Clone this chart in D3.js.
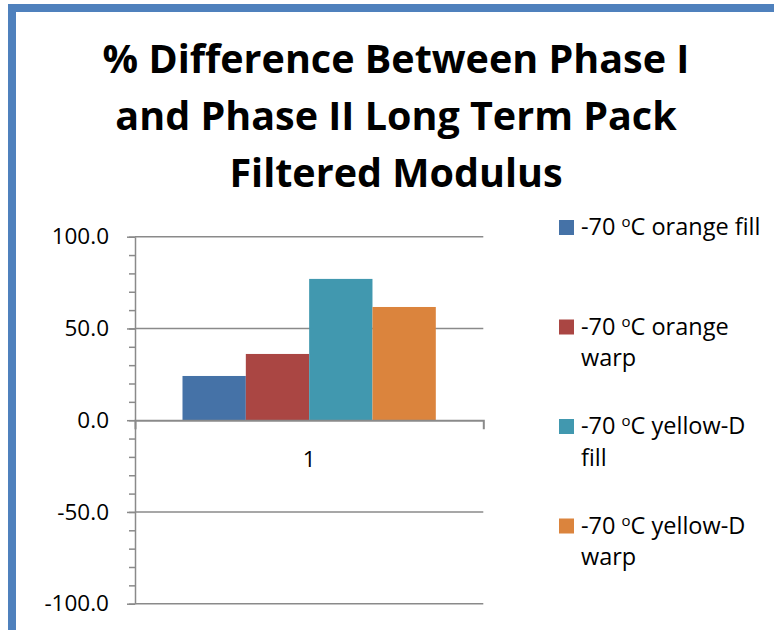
<!DOCTYPE html>
<html>
<head>
<meta charset="utf-8">
<script src="https://cdn.jsdelivr.net/npm/d3@7"></script>
<style>
  html, body { margin: 0; padding: 0; background: #fff; }
  svg { display: block; }
  text { font-family: "Open Sans", "DejaVu Sans", sans-serif; fill: #000; }
</style>
</head>
<body>
<svg id="chart" width="774" height="630"></svg>
<script>
// Chart data
const titleLines = ["% Difference Between Phase I", "and Phase II Long Term Pack", "Filtered Modulus"];
const categories = ["1"];
const seriesNames = [
  ["-70 ", "o", "C orange fill"],
  ["-70 ", "o", "C orange", "warp"],
  ["-70 ", "o", "C yellow-D", "fill"],
  ["-70 ", "o", "C yellow-D", "warp"]
];
const seriesValues = [24.1, 36.1, 77.0, 61.7];
const seriesColors = ["#4572A7", "#AA4643", "#4198AF", "#DB843D"];
const majorTicks = [-100, -50, 0, 50, 100];
const minorTicks = d3.range(-100, 101, 10);

const svg = d3.select("#chart");

// Outer chart frame (runs off the right and bottom edges)
svg.append("rect")
  .attr("x", 12).attr("y", 8)
  .attr("width", 800).attr("height", 700)
  .attr("fill", "none")
  .attr("stroke", "#4F81BD")
  .attr("stroke-width", 8);

// Title
svg.append("text")
  .attr("text-anchor", "middle")
  .attr("font-weight", "bold")
  .attr("font-size", 39.5)
  .selectAll("tspan")
  .data(titleLines)
  .join("tspan")
  .attr("x", 396)
  .attr("y", (d, i) => 73 + i * 57)
  .text(d => d);

// Plot area
const plot = { left: 135, right: 483.3, top: 236.7, bottom: 603.7 };

const y = d3.scaleLinear().domain([-100, 100]).range([plot.bottom, plot.top]);
const x = d3.scaleBand().domain(categories).range([plot.left, plot.right]);

// Bars take 4 slots, with a gap of 1.5 bar widths split around the group
const gapRatio = 1.5;
const barW = x.bandwidth() / (seriesValues.length + gapRatio);
const xs = d3.scaleBand()
  .domain(d3.range(seriesValues.length))
  .range([barW * gapRatio / 2, barW * gapRatio / 2 + barW * seriesValues.length]);

const gridColor = "#8a8a8a";

// Horizontal gridlines
svg.append("g")
  .selectAll("line")
  .data(majorTicks.filter(t => t !== 0))
  .join("line")
  .attr("x1", plot.left).attr("x2", plot.right)
  .attr("y1", d => y(d)).attr("y2", d => y(d))
  .attr("stroke", gridColor)
  .attr("stroke-width", 1.5);

// Bars
const group = svg.append("g")
  .selectAll("g")
  .data(categories)
  .join("g")
  .attr("transform", d => `translate(${x(d)},0)`);

group.selectAll("rect")
  .data(seriesValues.map((v, i) => ({ v, i })))
  .join("rect")
  .attr("x", d => xs(d.i))
  .attr("width", xs.bandwidth())
  .attr("y", d => y(Math.max(0, d.v)))
  .attr("height", d => Math.abs(y(d.v) - y(0)))
  .attr("fill", d => seriesColors[d.i]);

// Minor ticks on the value axis
const minorAxis = svg.append("g")
  .attr("transform", `translate(${plot.left},0)`)
  .call(d3.axisLeft(y).tickValues(minorTicks).tickSize(6).tickFormat(""));
minorAxis.select(".domain").remove();

// Value axis with major ticks and labels (plain hyphen for negatives)
const fmt = d => d3.format(".1f")(d).replace("\u2212", "-");
const yAxis = svg.append("g")
  .attr("transform", `translate(${plot.left},0)`)
  .call(d3.axisLeft(y).tickValues(majorTicks).tickSize(8).tickSizeOuter(0).tickPadding(18).tickFormat(fmt));
yAxis.selectAll("text")
  .attr("font-size", 22.5)
  .attr("font-family", "'Open Sans', sans-serif")
  .attr("fill", "#000");

[minorAxis, yAxis].forEach(g => {
  g.selectAll("line").attr("stroke", gridColor).attr("stroke-width", 1.5);
  g.selectAll(".domain").attr("stroke", gridColor).attr("stroke-width", 1.5);
});

// Category axis along zero
const xAxis = svg.append("g")
  .attr("transform", `translate(0,${y(0)})`)
  .call(d3.axisBottom(x).tickSize(0).tickSizeOuter(9).tickPadding(31));
xAxis.selectAll(".domain").attr("stroke", gridColor).attr("stroke-width", 2);
xAxis.selectAll("text")
  .attr("font-size", 22.5)
  .attr("font-family", "'Open Sans', sans-serif")
  .attr("fill", "#000");

// Legend
const legend = svg.append("g")
  .selectAll("g")
  .data(seriesNames)
  .join("g")
  .attr("transform", (d, i) => `translate(559,${220 + i * 99.5})`);

legend.append("rect")
  .attr("x", 0).attr("y", 0)
  .attr("width", 15).attr("height", 15)
  .attr("fill", (d, i) => seriesColors[i]);

const lt = legend.append("text")
  .attr("font-size", 23.5)
  .attr("y", 15);

lt.append("tspan").attr("x", 22).text(d => d[0]);
lt.append("tspan").attr("font-size", 15).attr("dy", -8).text(d => d[1]);
lt.append("tspan").attr("dy", 8).text(d => d[2]);
lt.filter(d => d.length > 3)
  .append("tspan").attr("x", 22).attr("dy", 31.5).text(d => d[3]);
</script>
</body>
</html>
